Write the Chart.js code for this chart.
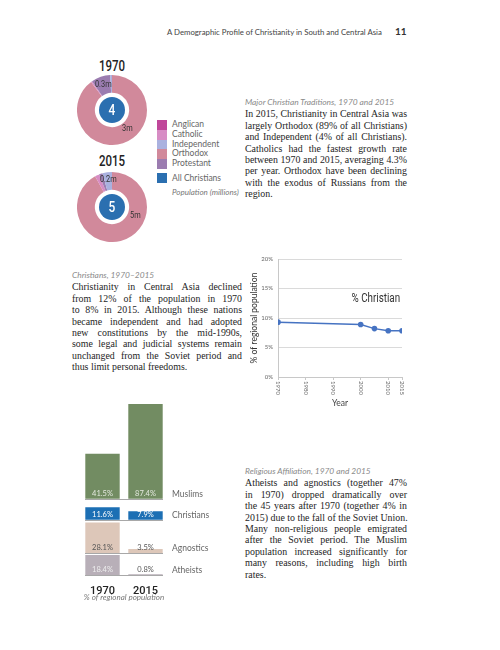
<!DOCTYPE html>
<html>
<head>
<meta charset="utf-8">
<script src="https://cdn.jsdelivr.net/npm/chart.js@4.4.1/dist/chart.umd.min.js"></script>
<style>
  body { margin: 0; width: 500px; height: 650px; background: #fff; position: relative; overflow: hidden; font-family: Lato, "Open Sans", sans-serif; }
  .abs { position: absolute; }
  .head { left: 167px; top: 27px; font-size: 7.8px; color: #444; white-space: nowrap; }
  .pageno { left: 395px; top: 25px; font-size: 10px; font-weight: bold; color: #333; }
  .yr { left: 77px; width: 70px; text-align: center; font-family: Roboto, sans-serif; font-weight: 500; font-size: 14px; color: #222; transform: scaleX(0.82); }
  .txt { font-family: "Liberation Serif", serif; font-size: 9.9px; line-height: 11.4px; color: #1e1e1e; }
  .txt .cap { font-family: Lato, sans-serif; font-style: italic; font-size: 8.4px; color: #8a8a8a; white-space: nowrap; }
  .txt .ln { text-align: justify; text-align-last: justify; white-space: nowrap; }
  .txt .ln.last { text-align-last: left; }
  .leg { left: 157px; top: 120px; font-size: 8.5px; color: #666; }
  .leg .row { height: 9.8px; line-height: 9.8px; position: relative; padding-left: 15px; white-space: nowrap; }
  .leg .sw { position: absolute; left: 0; top: 0; width: 10px; height: 9.8px; }
</style>
</head>
<body>
<div class="abs head">A Demographic Profile of Christianity in South and Central Asia</div>
<div class="abs pageno">11</div>

<div class="abs yr" style="top:58px">1970</div>
<div class="abs" style="left:77px;top:75px;"><canvas id="d1970" width="70" height="70"></canvas></div>
<div class="abs yr" style="top:153px">2015</div>
<div class="abs" style="left:77px;top:172px;"><canvas id="d2015" width="70" height="70"></canvas></div>
<div class="abs leg" id="legend"></div>

<div class="abs txt" style="left:245px;top:97px;width:162px;">
  <div class="cap">Major Christian Traditions, 1970 and 2015</div>
  <div class="ln">In 2015, Christianity in Central Asia was</div>
  <div class="ln">largely Orthodox (89% of all Christians)</div>
  <div class="ln">and Independent (4% of all Christians).</div>
  <div class="ln">Catholics had the fastest growth rate</div>
  <div class="ln">between 1970 and 2015, averaging 4.3%</div>
  <div class="ln">per year. Orthodox have been declining</div>
  <div class="ln">with the exodus of Russians from the</div>
  <div class="ln last">region.</div>
</div>

<div class="abs txt" style="left:72px;top:270px;width:170px;">
  <div class="cap">Christians, 1970–2015</div>
  <div class="ln">Christianity in Central Asia declined</div>
  <div class="ln">from 12% of the population in 1970</div>
  <div class="ln">to 8% in 2015. Although these nations</div>
  <div class="ln">became independent and had adopted</div>
  <div class="ln">new constitutions by the mid-1990s,</div>
  <div class="ln">some legal and judicial systems remain</div>
  <div class="ln">unchanged from the Soviet period and</div>
  <div class="ln last">thus limit personal freedoms.</div>
</div>

<div class="abs txt" style="left:245px;top:466px;width:162px;">
  <div class="cap">Religious Affiliation, 1970 and 2015</div>
  <div class="ln">Atheists and agnostics (together 47%</div>
  <div class="ln">in 1970) dropped dramatically over</div>
  <div class="ln">the 45 years after 1970 (together 4% in</div>
  <div class="ln">2015) due to the fall of the Soviet Union.</div>
  <div class="ln">Many non-religious people emigrated</div>
  <div class="ln">after the Soviet period. The Muslim</div>
  <div class="ln">population increased significantly for</div>
  <div class="ln">many reasons, including high birth</div>
  <div class="ln last">rates.</div>
</div>

<div class="abs" style="left:230px;top:250px;"><canvas id="lineChart" width="190" height="165"></canvas></div>
<div class="abs" style="left:70px;top:395px;"><canvas id="barChart" width="160" height="215"></canvas></div>

<script>
// Christian traditions (millions)
const traditions = ['Anglican', 'Catholic', 'Independent', 'Orthodox', 'Protestant'];
const trad1970 = [0, 0.02, 0.03, 3.35, 0.33];
const trad2015 = [0, 0.1, 0.22, 4.6, 0.08];
const tradColors = ['#c0479a', '#d78cc4', '#aab1df', '#d1899b', '#9b7cb0'];
const allChristiansColor = '#2b6fb0';
// order the slices go round the ring, clockwise from the top
const ringOrder = [3, 1, 4, 2, 0];

// % Christian over time
const years = [1970, 2000, 2005, 2010, 2015];
const pctChristian = [9.3, 8.9, 8.2, 7.85, 7.85];
const yearTicks = [1970, 1980, 1990, 2000, 2010, 2015];
const pctTicks = [0, 5, 10, 15, 20];

// religious affiliation, % of regional population
const religions = ['Muslims', 'Christians', 'Agnostics', 'Atheists'];
const share1970 = [41.5, 11.6, 28.1, 18.4];
const share2015 = [87.4, 7.9, 3.5, 0.8];
const barYears = ['1970', '2015'];
const relColors = ['#728c62', '#1c6fb4', '#ddc7b9', '#b8afb8'];
const relLabelColors = ['#e4e9df', '#ffffff', '#555555', '#eeeeee'];

const sansFont = 'Lato, "Open Sans", sans-serif';
const narrowFont = 'Roboto, sans-serif';

// legend
const legend = document.getElementById('legend');
traditions.forEach((t, i) => {
    legend.innerHTML += `<div class="row"><span class="sw" style="background:${tradColors[i]}"></span>${t}</div>`;
});
legend.innerHTML += `<div class="row" style="margin-top:4px;height:11px;line-height:11px"><span class="sw" style="background:${allChristiansColor};height:10px"></span>All Christians</div>`;
legend.innerHTML += `<div class="row" style="margin-top:4px;font-style:italic;font-size:8px;color:#777">Population (millions)</div>`;

function fmtM(v) {
    return (v >= 1 ? Math.round(v) : v.toFixed(1)) + 'm';
}

// narrow text: squeeze horizontally
function narrowText(ctx, text, x, y, sx) {
    ctx.save();
    ctx.translate(x, y);
    ctx.scale(sx, 1);
    ctx.fillText(text, 0, 0);
    ctx.restore();
}

const donutExtras = {
    id: 'donutExtras',
    afterDraw(chart, args, opts) {
        const ctx = chart.ctx;
        const meta = chart.getDatasetMeta(0);
        const vals = chart.data.datasets[0].data;
        const cx = meta.data[0].x, cy = meta.data[0].y;
        const biggest = Math.max(...vals);
        ctx.save();
        ctx.font = '9px ' + narrowFont;
        ctx.fillStyle = '#333';
        ctx.textAlign = 'center';
        ctx.textBaseline = 'middle';
        meta.data.forEach((arc, k) => {
            const v = vals[k];
            if (v < 0.15) return;
            let ang, r;
            if (v === biggest) {
                ang = (opts.bigAngle - 90) * Math.PI / 180;
                r = opts.bigR;
            } else {
                ang = (arc.startAngle + arc.endAngle) / 2;
                r = (arc.innerRadius + arc.outerRadius) / 2 + 1;
            }
            narrowText(ctx, fmtM(v), cx + r * Math.cos(ang), cy + r * Math.sin(ang), 0.82);
        });
        // All Christians disc
        const total = vals.reduce((a, b) => a + b, 0);
        ctx.beginPath();
        ctx.arc(cx, cy, 13, 0, Math.PI * 2);
        ctx.fillStyle = allChristiansColor;
        ctx.fill();
        ctx.fillStyle = '#fff';
        ctx.font = '500 14px ' + narrowFont;
        narrowText(ctx, String(Math.round(total)), cx, cy + 1, 0.85);
        ctx.restore();
    }
};

function makeDonut(id, values, bigAngle, bigR) {
    new Chart(document.getElementById(id), {
        type: 'doughnut',
        data: {
            labels: ringOrder.map(i => traditions[i]),
            datasets: [{
                data: ringOrder.map(i => values[i]),
                backgroundColor: ringOrder.map(i => tradColors[i]),
                borderWidth: 0
            }]
        },
        options: {
            responsive: false,
            animation: false,
            cutout: '49%',
            layout: { padding: 0 },
            plugins: {
                legend: { display: false },
                tooltip: { enabled: false },
                donutExtras: { bigAngle: bigAngle, bigR: bigR }
            }
        },
        plugins: [donutExtras]
    });
}
makeDonut('d1970', trad1970, 140, 24);
makeDonut('d2015', trad2015, 111, 25);

// line chart
const lineExtras = {
    id: 'lineExtras',
    afterDraw(chart) {
        const ctx = chart.ctx;
        const xs = chart.scales.x, ys = chart.scales.y;
        ctx.save();
        ctx.fillStyle = '#666';
        ctx.font = '6px ' + sansFont;
        ctx.textAlign = 'left';
        ctx.textBaseline = 'middle';
        yearTicks.forEach(yr => {
            ctx.save();
            ctx.translate(xs.getPixelForValue(yr), chart.chartArea.bottom + 4);
            ctx.rotate(Math.PI / 2);
            ctx.fillText(String(yr), 0, 0);
            ctx.restore();
        });
        ctx.fillStyle = '#333';
        ctx.font = '12px ' + narrowFont;
        ctx.textAlign = 'center';
        narrowText(ctx, chart.data.datasets[0].label, xs.getPixelForValue(2005.5), ys.getPixelForValue(13.2), 0.82);
        ctx.restore();
    }
};

new Chart(document.getElementById('lineChart'), {
    type: 'line',
    data: {
        datasets: [{
            label: '% Christian',
            data: years.map((y, i) => ({ x: y, y: pctChristian[i] })),
            borderColor: '#4673c2',
            backgroundColor: '#4673c2',
            borderWidth: 1.5,
            pointRadius: 2.8,
            pointBorderWidth: 0
        }]
    },
    options: {
        responsive: false,
        animation: false,
        layout: { padding: { top: 9, right: 18 } },
        plugins: { legend: { display: false }, tooltip: { enabled: false } },
        scales: {
            x: {
                type: 'linear', min: 1970, max: 2015,
                afterBuildTicks: s => { s.ticks = yearTicks.map(v => ({ value: v })); },
                afterFit: s => { s.height = 38; },
                ticks: { display: false },
                grid: { drawOnChartArea: false, drawTicks: true, tickLength: 3, color: '#c8c8c8' },
                border: { color: '#c8c8c8' },
                title: { display: true, text: 'Year', color: '#444', font: { size: 8.5, family: sansFont }, padding: { top: 0, bottom: 7 } }
            },
            y: {
                min: 0, max: 20,
                afterBuildTicks: s => { s.ticks = pctTicks.map(v => ({ value: v })); },
                afterFit: s => { s.width = 48; },
                ticks: { callback: v => v + '%', color: '#666', font: { size: 6, family: sansFont }, padding: 5 },
                grid: { color: '#dadada', drawTicks: false },
                border: { color: '#c8c8c8' },
                title: { display: true, text: '% of regional population', color: '#333', font: { size: 8.5, family: sansFont }, padding: { top: 19, bottom: 0 } }
            }
        }
    },
    plugins: [lineExtras]
});

// bar chart: each religion gets its own band, bars grow up from the band's baseline
const rowGaps = [7.9, 2.4, 2.0];
const rowBase = [];
let acc = 0;
for (let i = religions.length - 1; i >= 0; i--) {
    rowBase[i] = acc;
    acc += Math.max(share1970[i], share2015[i]) + (i > 0 ? rowGaps[i - 1] : 0);
}
const yTop = acc;

const barExtras = {
    id: 'barExtras',
    afterDatasetsDraw(chart) {
        const ctx = chart.ctx;
        const ys = chart.scales.y;
        const area = chart.chartArea;
        ctx.save();
        religions.forEach((r, i) => {
            const by = Math.round(ys.getPixelForValue(rowBase[i])) + 0.5;
            ctx.strokeStyle = '#a8a8a8';
            ctx.lineWidth = 1;
            ctx.beginPath();
            ctx.moveTo(area.left + 4, by);
            ctx.lineTo(area.right - 4, by);
            ctx.stroke();
            ctx.fillStyle = '#666';
            ctx.font = '8.5px ' + sansFont;
            ctx.textAlign = 'left';
            ctx.textBaseline = 'middle';
            ctx.fillText(r, area.right + 5, by - 5);
            const meta = chart.getDatasetMeta(i);
            const vals = [share1970[i], share2015[i]];
            meta.data.forEach((bar, j) => {
                const h = Math.abs(bar.base - bar.y);
                ctx.fillStyle = h >= 7 ? relLabelColors[i] : '#555';
                ctx.font = '7.5px ' + sansFont;
                ctx.textAlign = 'center';
                ctx.fillText(vals[j].toFixed(1) + '%', bar.x, by - 5.5);
            });
        });
        ctx.restore();
    }
};

new Chart(document.getElementById('barChart'), {
    type: 'bar',
    data: {
        labels: barYears,
        datasets: religions.map((r, i) => ({
            label: r,
            data: [[rowBase[i], rowBase[i] + share1970[i]], [rowBase[i], rowBase[i] + share2015[i]]],
            backgroundColor: relColors[i],
            borderWidth: 0,
            barPercentage: 0.8,
            categoryPercentage: 1
        }))
    },
    options: {
        responsive: false,
        animation: false,
        layout: { padding: { top: 9, left: 11, right: 63, bottom: 0 } },
        plugins: { legend: { display: false }, tooltip: { enabled: false } },
        scales: {
            x: {
                stacked: true,
                afterFit: s => { s.height = 35; },
                grid: { display: false },
                border: { display: false },
                ticks: { color: '#222', padding: 2, font: { size: 11, weight: '500', family: narrowFont } },
                title: { display: true, text: '% of regional population', color: '#777', font: { size: 8, style: 'italic', family: sansFont }, padding: { top: 0, bottom: 8 } }
            },
            y: { display: false, min: 0, max: yTop }
        }
    },
    plugins: [barExtras]
});
</script>
</body>
</html>
